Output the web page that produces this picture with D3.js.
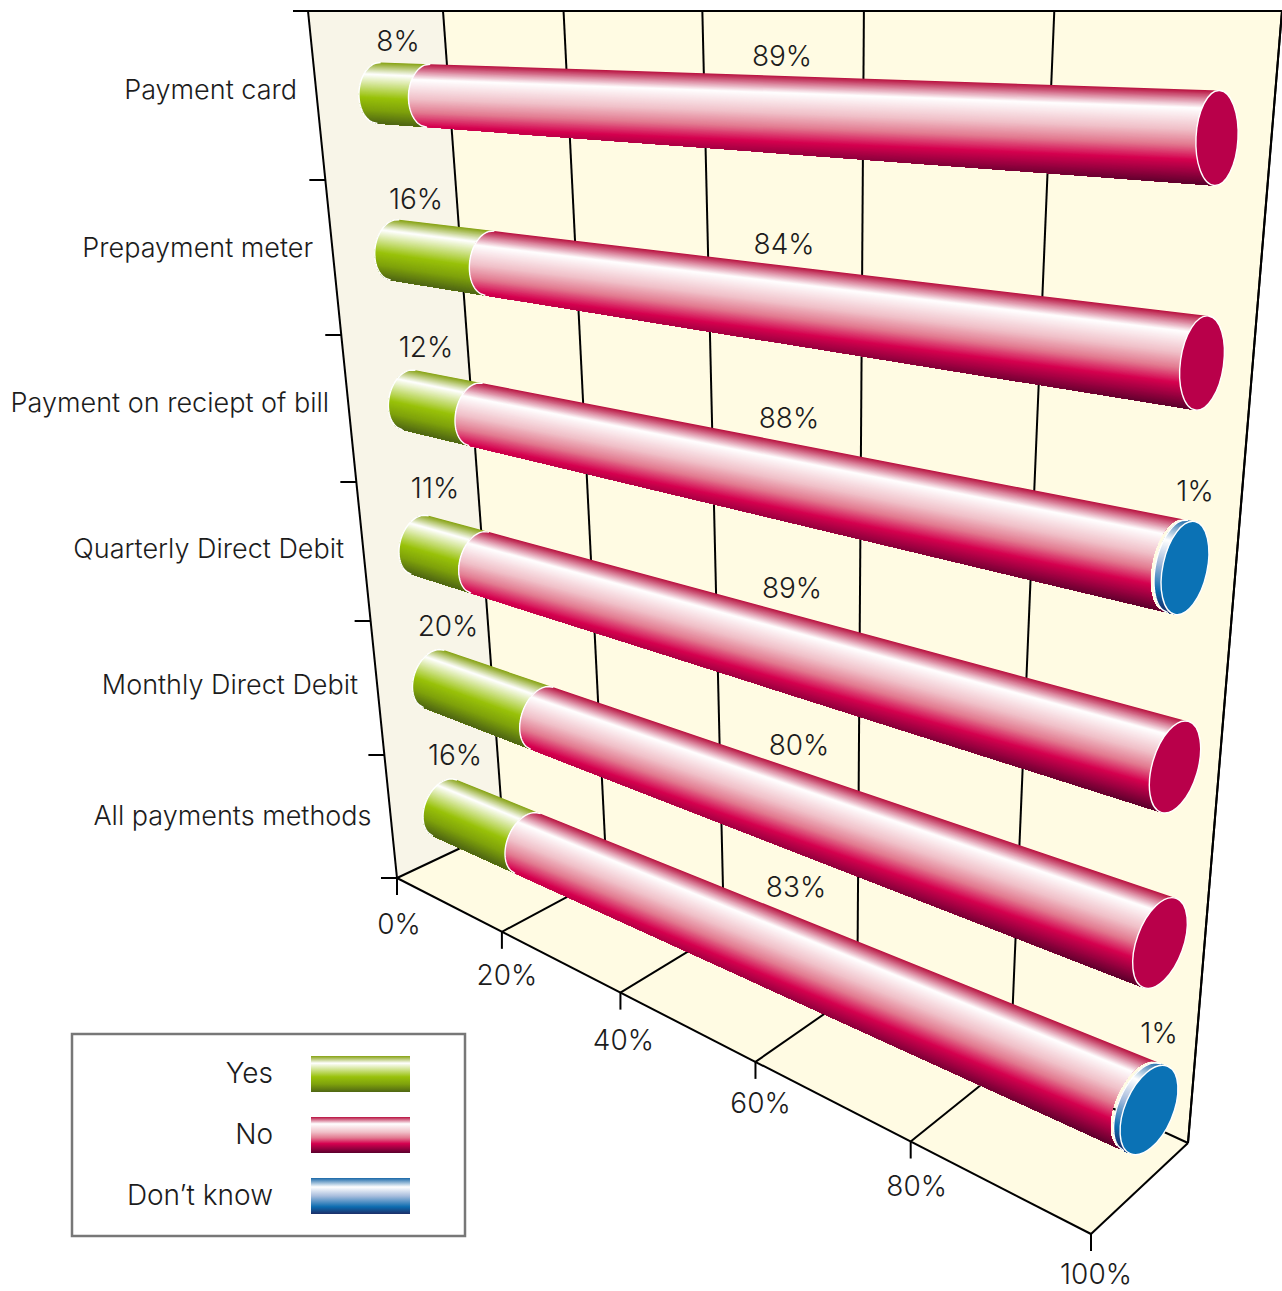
<!DOCTYPE html>
<html><head><meta charset="utf-8">
<script src="https://cdn.jsdelivr.net/npm/d3@7/dist/d3.min.js"></script>
<style>html,body{margin:0;padding:0;background:#fff}svg{display:block}
text{font-family:Inter,"Liberation Sans",sans-serif;font-weight:300;fill:#1c1c1c}</style>
</head><body><div id="chart"></div>
<script>
// ---- data ----
const categories = ["Payment card","Prepayment meter","Payment on reciept of bill","Quarterly Direct Debit","Monthly Direct Debit","All payments methods"];
const yesValues = [8,16,12,11,20,16];
const noValues = [89,84,88,89,80,83];
const dontKnowValues = [0,0,1,0,0,1];
const xTicks = [0,20,40,60,80,100];
const seriesNames = ["Yes","No","Don\u2019t know"];

// ---- colour profiles across a tube, top (0) to bottom (1) ----
const profileOffsets = {
  yes:[0,.2,.58,.78,1], no:[0,.19,.42,.58,.74,.87,1], dk:[0,.25,.5,.8,1]
};
const profileColors = {
  yes:["#86a212","#ffffff","#99c20a","#7fa20c","#4f6614"],
  no:["#b8103f","#ffffff","#f0c0c8","#e27a90","#d5004f","#9a0040","#5a002c"],
  dk:["#1a68a8","#ffffff","#a8bddd","#0c6cb0","#1c2e68"]
};
const capColors = {no:"#b9004a", dk:"#0b72b5", yes:"#99c20a"};
const shade = Object.fromEntries(Object.keys(profileOffsets).map(k=>[k,
  d3.scaleLinear().domain(profileOffsets[k]).range(profileColors[k]).interpolate(d3.interpolateRgb)]));

const W=1282,H=1291;
const svg=d3.select("#chart").append("svg").attr("width",W).attr("height",H).attr("viewBox",`0 0 ${W} ${H}`);
const defs=svg.append("defs");

// ---- scales ----
const pct=d3.scaleLinear().domain([0,100]).range([0,1]);
const persp=k=>v=>{const u=pct(v);return u/(u+k*(1-u));};
const fFront=persp(1.404), fBack=persp(1.4), fTop=persp(1.49), fBar=persp(1.43);
const lerp=(a,b,t)=>[a[0]+(b[0]-a[0])*t,a[1]+(b[1]-a[1])*t];

const corner={ frontL:[397,878], frontR:[1091,1234], backL:[503,828], backR:[1188,1143],
  topFront:[308,11], topBack:[443,11], topR:[1282,11] };
const rowIdx=d3.range(categories.length);
const startX=d3.scaleLinear().domain(rowIdx).range([379,395,409,420,434,445]);
const startY=d3.scaleLinear().domain(rowIdx).range([93,250,400,545,679,808]);
const endX=d3.scaleLinear().domain(rowIdx).range([1217,1202,1185,1175,1160,1149]);
const endY=d3.scaleLinear().domain(rowIdx).range([138,363,568,767,943,1110]);
const major=d3.scaleLinear().domain([0,1]).range([30.5,47.5]);
const minor=i=>d3.scaleLinear().domain([0,1]).range([20,21+i*.6]);
const wallTickY=d3.scaleLinear().domain(d3.range(7)).range([11,180,335,482,621,755,878]);
const wallX=d3.scaleLinear().domain([11,878]).range([308,397]);

// ---- walls and floor ----
const line=d3.line();
const g=svg.append("g");
g.append("path").attr("d",line([corner.topBack,corner.topR,corner.backR,corner.frontR,corner.frontL,corner.backL])+"Z").attr("fill","#fffbe3");
g.append("path").attr("d",line([corner.topFront,corner.topBack,corner.backL,corner.frontL])+"Z").attr("fill","#f8f5e8");

const stroke=(sel)=>sel.attr("fill","none").attr("stroke","#000").attr("stroke-width",2);
g.selectAll(".wall").data(xTicks).join("path").attr("class","wall").call(stroke)
 .attr("d",v=>line([lerp(corner.topBack,corner.topR,fTop(v)),lerp(corner.backL,corner.backR,fBack(v))]));
g.selectAll(".floor").data(xTicks).join("path").attr("class","floor").call(stroke)
 .attr("d",v=>line([lerp(corner.frontL,corner.frontR,fFront(v)),lerp(corner.backL,corner.backR,fBack(v))]));
g.append("path").call(stroke).attr("d",line([[293,11],corner.topR]));
g.append("path").call(stroke).attr("d",line([corner.topFront,corner.frontL]));
g.append("path").call(stroke).attr("d",line([corner.topR,corner.backR]));
g.append("path").call(stroke).attr("d",line([corner.frontL,corner.frontR]));
g.append("path").call(stroke).attr("d",line([corner.backL,corner.backR]));
g.selectAll(".xt").data(xTicks).join("path").attr("class","xt").call(stroke)
 .attr("d",v=>{const p=lerp(corner.frontL,corner.frontR,fFront(v));return line([p,[p[0],p[1]+17]]);});
g.selectAll(".yt").data(d3.range(1,7)).join("path").attr("class","yt").call(stroke)
 .attr("d",i=>{const y=wallTickY(i),x=wallX(y);return line([[x-16,y],[x,y]]);});

// labels
const fs=27, fsNum=28;
const tickLabelDx=d3.scaleOrdinal().domain(xTicks).range([2,5,3,5,6,5]);
const tickLabelDy=d3.scaleOrdinal().domain(xTicks).range([46,43,47,41,44,40]);
g.selectAll(".xl").data(xTicks).join("text").attr("class","xl")
 .attr("x",v=>lerp(corner.frontL,corner.frontR,fFront(v))[0]+tickLabelDx(v))
 .attr("y",v=>lerp(corner.frontL,corner.frontR,fFront(v))[1]+tickLabelDy(v))
 .attr("dy","0.36em").attr("text-anchor","middle").attr("font-size",fsNum).text(v=>v+"%");
const catY=d3.scaleLinear().domain(rowIdx).range([89,247,402,548,684,815]);
g.selectAll(".cat").data(categories).join("text").attr("class","cat")
 .attr("x",(d,i)=>wallX(catY(i))-19)
 .attr("y",(d,i)=>catY(i)).attr("dy","0.36em").attr("text-anchor","end").attr("font-size",fs).text(d=>d);
const yesLabelX=d3.scaleLinear().domain(rowIdx).range([398,416,426,435,448,455]);
const yesLabelY=d3.scaleLinear().domain(rowIdx).range([41,199,347,488,626,755]);
const noLabelX=d3.scaleLinear().domain(rowIdx).range([782,784,789,792,799,796]);
const noLabelY=d3.scaleLinear().domain(rowIdx).range([56,244,418,588,745,887]);

// ---- tubes ----
const N=120, fullTube=2*major(1);
const sVals=d3.range(61).map(i=>-1+2*i/60);
function drawRow(i){
  const S=[startX(i),startY(i)],E=[endX(i),endY(i)];
  const a=Math.atan2(E[1]-S[1],E[0]-S[0]);
  const ax=[Math.cos(a),Math.sin(a)],up=[-Math.sin(a),Math.cos(a)];
  const len=Math.hypot(E[0]-S[0],E[1]-S[1]);
  const mn=minor(i);
  const total=yesValues[i]+noValues[i]+dontKnowValues[i];
  const f=v=>fBar(100*v/total);
  const arc=(t,s)=>{ const c=lerp(S,E,t),R=major(t),r=mn(t),q=Math.sqrt(Math.max(0,1-s*s));
    return [c[0]+s*R*up[0]-q*r*ax[0], c[1]+s*R*up[1]-q*r*ax[1]]; };
  const arcPath=t=>line(sVals.map(s=>arc(t,s)));
  // Offset below the tube's upper edge at which a profile position u lies.
  // The red sheath's bands stay nearly parallel to its top edge, so its dark
  // underside only comes into view towards the wide end; green and blue fill the tube.
  const bandOffset=(key,u,t)=> key=="no" ? u*fullTube*(.88+.12*t) : u*2*major(t);
  const iso=(key,u,t,extra)=>{const c=lerp(S,E,t),d=-major(t)+bandOffset(key,u,t)+extra;
    return [c[0]+d*up[0],c[1]+d*up[1]];};
  const segs=[
    {key:"yes",a:0,b:yesValues[i]},
    {key:"no",a:yesValues[i],b:yesValues[i]+noValues[i]},
    {key:"dk",a:yesValues[i]+noValues[i],b:total}
  ].filter(d=>d.b>d.a);
  const row=svg.append("g");
  const margin=45/len;
  segs.forEach(sg=>{
    const t0=sg.key=="dk"?1-(1-f(sg.a))*.65:f(sg.a), t1=f(sg.b);
    const id=`clip-${i}-${sg.key}`;
    defs.append("clipPath").attr("id",id).append("path")
      .attr("d",line(sVals.map(s=>arc(t0,s)).concat(sVals.slice().reverse().map(s=>arc(t1,s))))+"Z");
    const seg=row.append("g").attr("clip-path",`url(#${id})`);
    const tA=t0-margin,tB=t1+margin;
    seg.selectAll("path").data(d3.range(N)).join("path")
      .attr("d",j=>{
        const u=j/N, ex=j==0?-3:0;
        const A=iso(sg.key,u,tA,ex),B=iso(sg.key,u,tB,ex);
        const B2=[B[0]+up[0]*220,B[1]+up[1]*220],A2=[A[0]+up[0]*220,A[1]+up[1]*220];
        return line([A,B,B2,A2])+"Z";})
      .attr("fill",j=>shade[sg.key]((j+.5)/N));
    sg.t0=t0; sg.t1=t1;
  });
  segs.forEach(sg=>{
    row.append("path").attr("d",arcPath(sg.t0)).attr("fill","none").attr("stroke","#fff").attr("stroke-width",1.4);
  });
  const last=segs[segs.length-1];
  const c=lerp(S,E,1);
  row.append("ellipse").attr("cx",0).attr("cy",0).attr("rx",mn(1)).attr("ry",major(1))
    .attr("transform",`translate(${c[0]},${c[1]}) rotate(${a*180/Math.PI})`)
    .attr("fill",capColors[last.key]).attr("stroke","#fff").attr("stroke-width",1.4);
  const lab=(x,y,t)=>row.append("text").attr("x",x).attr("y",y).attr("dy","0.36em").attr("text-anchor","middle").attr("font-size",fsNum).text(t);
  lab(yesLabelX(i),yesLabelY(i),yesValues[i]+"%");
  lab(noLabelX(i),noLabelY(i),noValues[i]+"%");
  if(dontKnowValues[i]) lab(E[0]+10,E[1]-77,dontKnowValues[i]+"%");
}
rowIdx.forEach(drawRow);

// ---- legend ----
const legend=svg.append("g");
legend.append("rect").attr("x",72).attr("y",1034).attr("width",393).attr("height",202).attr("fill","#fff").attr("stroke","#777").attr("stroke-width",2.5);
const keys=["yes","no","dk"];
keys.forEach(k=>{
  const lg=defs.append("linearGradient").attr("id","lg-"+k).attr("x1",0).attr("x2",0).attr("y1",0).attr("y2",1);
  profileOffsets[k].forEach((o,j)=>lg.append("stop").attr("offset",o).attr("stop-color",profileColors[k][j]));
});
const legY=d3.scalePoint().domain(keys).range([1074,1196]);
legend.selectAll("rect.sw").data(keys).join("rect").attr("class","sw").attr("x",311).attr("width",99).attr("height",36)
  .attr("y",k=>legY(k)-18).attr("fill",k=>`url(#lg-${k})`);
legend.selectAll("text").data(keys).join("text").attr("x",273).attr("y",k=>legY(k)-1).attr("dy","0.36em")
  .attr("text-anchor","end").attr("font-size",fsNum).text((k,i)=>seriesNames[i]);
</script></body></html>
